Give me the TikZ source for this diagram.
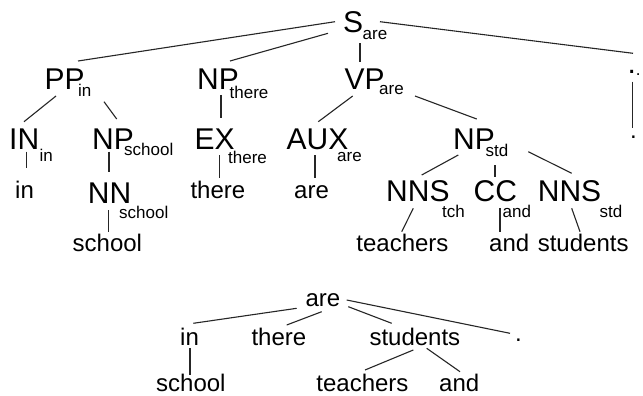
\documentclass[tikz,border=0pt]{standalone}
\usepackage{fontspec}
\setmainfont{Liberation Sans}
\begin{document}
\begin{tikzpicture}[x=1pt,y=-1pt,
  cat/.style={anchor=base west, inner sep=0pt, font=\fontsize{30}{30}\selectfont},
  sub/.style={anchor=base west, inner sep=0pt, font=\fontsize{17}{17}\selectfont},
  word/.style={anchor=base west, inner sep=0pt, font=\fontsize{24}{24}\selectfont},
  link/.style={line width=1.1pt, draw=black!85}]
\fill[white] (0,0) rectangle (643,396);
\useasboundingbox (0,0) rectangle (643,396);

% ---- phrase-structure tree: categories with head-word subscripts ----
\node[cat] (S)     at (343,33)    {S};
\node[sub] (Ssub)  at (362.5,40)  {are};

\node[cat] (PP)    at (44.5,89)   {PP};
\node[sub] (PPsub) at (78,96)     {in};
\node[cat] (NPt)   at (197,90)    {NP};
\node[sub] (NPtsub) at (229.5,99) {there};
\node[cat] (VP)    at (344.5,90)  {VP};
\node[sub] (VPsub) at (379,95)    {are};
\node[cat] (Pd)    at (627.5,73.3) {.};
\node[sub] (Pdsub) at (635.7,76)  {.};

\node[cat] (IN)    at (9,149)     {IN};
\node[sub] (INsub) at (39.5,161.7) {in};
\node[cat] (NPs)   at (92,149)    {NP};
\node[sub] (NPssub) at (124,155)  {school};
\node[cat] (EX)    at (194.3,149) {EX};
\node[sub] (EXsub) at (228,163.3) {there};
\node[cat] (AUX)   at (286.5,149) {AUX};
\node[sub] (AUXsub) at (337,161.7) {are};
\node[cat] (NPstd) at (453,149)   {NP};
\node[sub] (NPstdsub) at (485.5,156.7) {std};

\node[cat] (NN)    at (87.7,203.3) {NN};
\node[sub] (NNsub) at (119,218.3) {school};
\node[cat] (NNSt)  at (386,201)   {NNS};
\node[sub] (NNStsub) at (442,217.5) {tch};
\node[cat] (CC)    at (473.5,201) {CC};
\node[sub] (CCsub) at (502.5,217) {and};
\node[cat] (NNSs)  at (537.7,201) {NNS};
\node[sub] (NNSssub) at (599.5,217) {std};

% ---- words at the leaves ----
\node[word] (win)     at (15,198.3)    {in};
\node[word] (wthere)  at (190.3,198.3) {there};
\node[word] (ware)    at (294,198.3)   {are};
\node[word] (wper)    at (630,138.5)   {.};
\node[word] (wschool) at (72.5,251.7)  {school};
\node[word] (wteach)  at (356.2,251.7) {teachers};
\node[word] (wand)    at (489,251.7)   {and};
\node[word] (wstud)   at (537.6,251.7) {students};

% ---- branches of the phrase-structure tree ----
\draw[link] ([shift={(-8,-11.3)}]S.base west)   -- ([shift={(33.5,-28)}]PP.base west);
\draw[link] ([shift={(-15,0.3)}]S.base west)    -- ([shift={(33,-29)}]NPt.base west);
\draw[link] ([shift={(17,10.3)}]S.base west)    -- ([shift={(15.5,-28.3)}]VP.base west);
\draw[link] ([shift={(37,-11.3)}]S.base west)   -- ([shift={(5.5,-20)}]Pd.base west);
\draw[link] ([shift={(11.5,7)}]PP.base west)    -- ([shift={(15,-27.3)}]IN.base west);
\draw[link] ([shift={(59.5,12.7)}]PP.base west) -- ([shift={(24.7,-30)}]NPs.base west);
\draw[link] ([shift={(24,5)}]NPt.base west)     -- ([shift={(26.7,-30.7)}]EX.base west);
\draw[link] ([shift={(8.2,6)}]VP.base west)     -- ([shift={(31.8,-27.3)}]AUX.base west);
\draw[link] ([shift={(70.5,6)}]VP.base west)    -- ([shift={(23.7,-30)}]NPstd.base west);
\draw[link] ([shift={(5.2,8.4)}]Pd.base west)   -- ([shift={(2.7,-10.2)}]wper.base west);
\draw[link] ([shift={(17.7,2.7)}]IN.base west)  -- ([shift={(11.7,-30)}]win.base west);
\draw[link] ([shift={(17,2.7)}]NPs.base west)   -- ([shift={(21.3,-31.6)}]NN.base west);
\draw[link] ([shift={(25,6)}]EX.base west)      -- ([shift={(29,-20)}]wthere.base west);
\draw[link] ([shift={(28.5,6)}]AUX.base west)   -- ([shift={(21,-20)}]ware.base west);
\draw[link] ([shift={(5.3,6)}]NPstd.base west)  -- ([shift={(35.7,-26)}]NNSt.base west);
\draw[link] ([shift={(42,16)}]NPstd.base west)  -- ([shift={(21.5,-24.3)}]CC.base west);
\draw[link] ([shift={(75.3,2.7)}]NPstd.base west) -- ([shift={(34,-27.7)}]NNSs.base west);
\draw[link] ([shift={(20.6,6.7)}]NN.base west)  -- ([shift={(35.8,-20)}]wschool.base west);
\draw[link] ([shift={(27.3,7.3)}]NNSt.base west) -- ([shift={(45.5,-20)}]wteach.base west);
\draw[link] ([shift={(26.5,7.3)}]CC.base west)  -- ([shift={(11,-20)}]wand.base west);
\draw[link] ([shift={(34,7.3)}]NNSs.base west)  -- ([shift={(42.4,-20)}]wstud.base west);

% ---- dependency tree ----
\node[word] (dare)   at (305.3,306.5) {are};
\node[word] (din)    at (180,345)     {in};
\node[word] (dthere) at (251.3,345)   {there};
\node[word] (dstud)  at (369.3,345)   {students};
\node[word] (dper)   at (515,341.5)   {.};
\node[word] (dschool) at (156,391.7)  {school};
\node[word] (dteach) at (316.2,391.7) {teachers};
\node[word] (dand)   at (439,391.7)   {and};

\draw[link] ([shift={(-8.6,1.8)}]dare.base west) -- ([shift={(13.3,-21.7)}]din.base west);
\draw[link] ([shift={(16.4,5.2)}]dare.base west) -- ([shift={(35.4,-20)}]dthere.base west);
\draw[link] ([shift={(43,0.2)}]dare.base west)   -- ([shift={(22.4,-21.7)}]dstud.base west);
\draw[link] ([shift={(41.4,-6.5)}]dare.base west) -- ([shift={(-5,-8.2)}]dper.base west);
\draw[link] ([shift={(10,3.3)}]din.base west)    -- ([shift={(34,-16.7)}]dschool.base west);
\draw[link] ([shift={(44,5)}]dstud.base west)    -- ([shift={(48.8,-21.7)}]dteach.base west);
\draw[link] ([shift={(57.4,3.3)}]dstud.base west) -- ([shift={(21,-20)}]dand.base west);
\end{tikzpicture}
\end{document}
